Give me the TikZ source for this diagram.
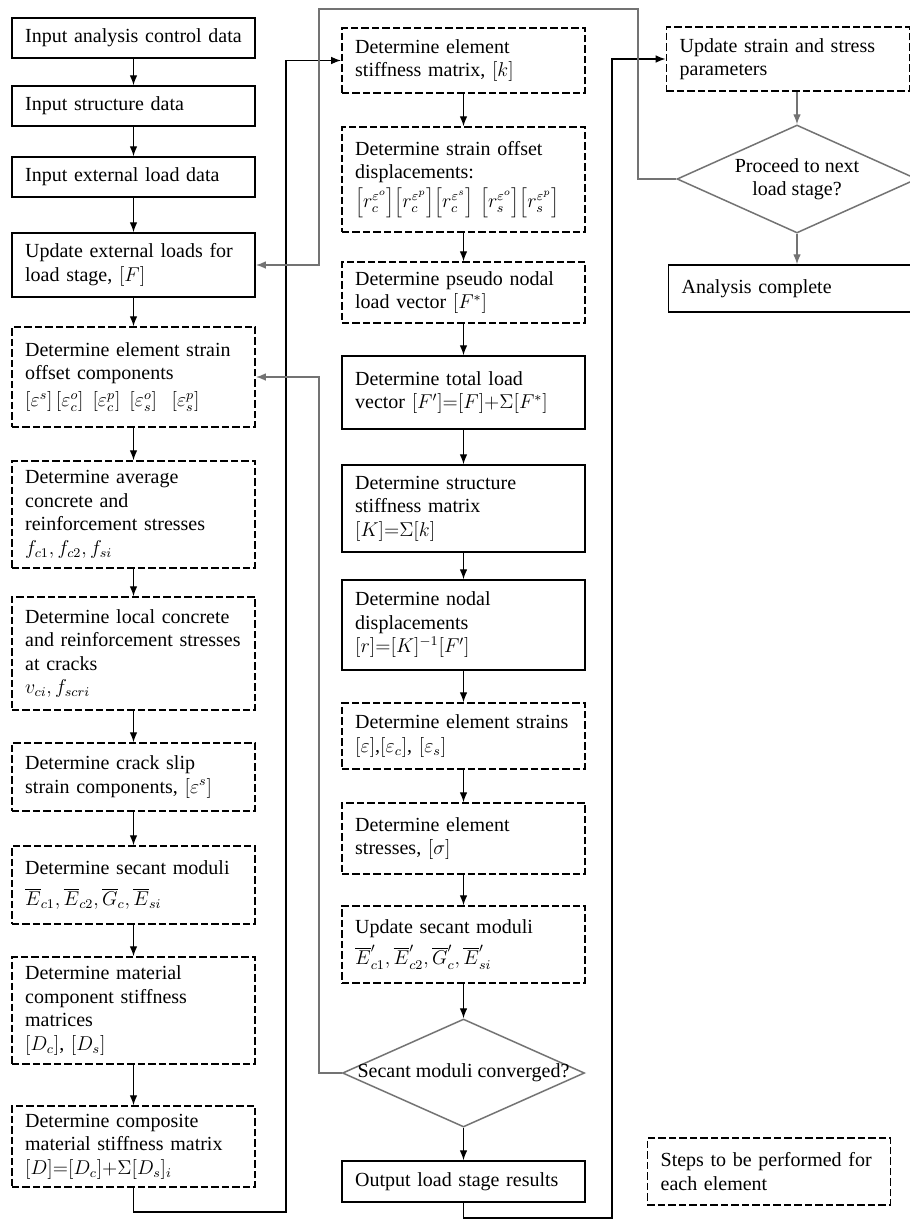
\documentclass[tikz,border=0pt]{standalone}
\usepackage{fontspec}
\setmainfont{Liberation Serif}
\usetikzlibrary{shapes.geometric,arrows.meta}
\definecolor{loopgray}{gray}{0.45}

\begin{document}
\begin{tikzpicture}[x=0.6pt,y=-0.6pt,
  solidbox/.style={draw, line width=0.9pt, rectangle, minimum width=146pt, text width=130pt,
    inner xsep=8pt, inner ysep=2pt, align=left, font=\fontsize{12}{14.1}\selectfont},
  dashbox/.style={solidbox, dash pattern=on 4.5pt off 1.8pt},
  decision/.style={draw=loopgray, diamond, line width=0.9pt, inner sep=0pt},
  arr/.style={-{Latex[length=6pt,width=4.6pt]}, line width=0.8pt},
  grayarr/.style={arr, draw=loopgray}]

\fill[white] (0,0) rectangle (909,1222);
\useasboundingbox (0,0) rectangle (909,1222);

% Left column
\node[solidbox, minimum height=24pt] (L1) at (133.5,38) {Input analysis control data};
\node[solidbox, minimum height=24pt] (L2) at (133.5,106) {Input structure data};
\node[solidbox, minimum height=24pt] (L3) at (133.5,177) {Input external load data};
\node[solidbox, minimum height=38.4pt] (L4) at (133.5,265) {Update external loads for\\ load stage, $[F]$};
\node[dashbox, minimum height=60pt] (L5) at (133.5,377) {Determine element strain\\ offset components\\[2pt]
  $[\varepsilon^s]\left[\varepsilon_c^o\right]\;\left[\varepsilon_c^p\right]\;\left[\varepsilon_s^o\right]\;\;\left[\varepsilon_s^p\right]$};
\node[dashbox, minimum height=64.2pt] (L6) at (133.5,514.5) {Determine average\\ concrete and\\ reinforcement stresses\\ $f_{c1}, f_{c2}, f_{si}$};
\node[dashbox, minimum height=67.8pt] (L7) at (133.5,653.5) {Determine local concrete\\ and reinforcement stresses\\ at cracks\\ $v_{ci}, f_{scri}$};
\node[dashbox, minimum height=40.8pt] (L8) at (133.5,777) {Determine crack slip\\ strain components, $[\varepsilon^s]$};
\node[dashbox, minimum height=46.8pt] (L9) at (133.5,885) {Determine secant moduli\\[4pt]
  $\overline{E}_{c1}, \overline{E}_{c2}, \overline{G}_{c}, \overline{E}_{si}$};
\node[dashbox, minimum height=64.2pt] (L10) at (133.5,1010.5) {Determine material\\ component stiffness\\ matrices\\ $[D_c]$, $[D_s]$};
\node[dashbox, minimum height=48.6pt] (L11) at (133.5,1146.5) {Determine composite\\ material stiffness matrix\\ $[D]{=}[D_c]{+}\Sigma[D_s]_i$};

% Middle column
\node[dashbox, minimum height=39pt] (M1) at (463.5,60.5) {Determine element\\ stiffness matrix, $[k]$};
\node[dashbox, minimum height=63pt] (M2) at (463.5,179.5) {Determine strain offset\\ displacements:\\[2pt]
  $\left[r_c^{\varepsilon^o}\right]\!\left[r_c^{\varepsilon^p}\right]\!\left[r_c^{\varepsilon^s}\right]\,\left[r_s^{\varepsilon^o}\right]\!\left[r_s^{\varepsilon^p}\right]$};
\node[dashbox, minimum height=36.6pt] (M3) at (463.5,292.5) {Determine pseudo nodal\\ load vector $[F^*]$};
\node[solidbox, minimum height=43.8pt] (M4) at (463.5,392.5) {Determine total load\\ vector $[F']{=}[F]{+}\Sigma[F^*]$};
\node[solidbox, minimum height=52.2pt] (M5) at (463.5,508.5) {Determine structure\\ stiffness matrix\\ $[K]{=}\Sigma[k]$};
\node[solidbox, minimum height=54pt] (M6) at (463.5,625) {Determine nodal\\ displacements\\ $[r]{=}[K]^{-1}[F']$};
\node[dashbox, minimum height=39.6pt] (M7) at (463.5,736) {Determine element strains\\ $[\varepsilon]$,$[\varepsilon_c]$, $[\varepsilon_s]$};
\node[dashbox, minimum height=42.6pt] (M8) at (463.5,838.5) {Determine element\\ stresses, $[\sigma]$};
\node[dashbox, minimum height=46.2pt] (M9) at (463.5,944.5) {Update secant moduli\\[4pt]
  $\overline{E}'_{c1}, \overline{E}'_{c2}, \overline{G}'_{c}, \overline{E}'_{si}$};
\node[decision, minimum width=145.2pt, minimum height=64.8pt] (D1) at (463.5,1073) {};
\node[font=\fontsize{12}{14.1}\selectfont] (D1txt) at (D1) {Secant moduli converged?};
\node[solidbox, minimum height=24.6pt] (M10) at (463.5,1181.5) {Output load stage results};

% Right column
\node[dashbox, minimum height=38.4pt] (R1) at (788,59) {Update strain and stress\\ parameters};
\node[decision, minimum width=144pt, minimum height=64.8pt] (D2) at (797,179) {};
\node[font=\fontsize{12}{14.1}\selectfont, align=center] (D2txt) at (D2) {Proceed to next\\ load stage?};
\node[solidbox, minimum height=28.2pt] (R2) at (790,288.5) {Analysis complete};

% Legend
\node[dashbox, minimum height=40.2pt] (key) at (769,1171.5) {Steps to be performed for\\ each element};

% Straight arrows, left column
\draw[arr] (L1) -- (L2);
\draw[arr] (L2) -- (L3);
\draw[arr] (L3) -- (L4);
\draw[arr] (L4) -- (L5);
\draw[arr] (L5) -- (L6);
\draw[arr] (L6) -- (L7);
\draw[arr] (L7) -- (L8);
\draw[arr] (L8) -- (L9);
\draw[arr] (L9) -- (L10);
\draw[arr] (L10) -- (L11);

% Straight arrows, middle column
\draw[arr] (M1) -- (M2);
\draw[arr] (M2) -- (M3);
\draw[arr] (M3) -- (M4);
\draw[arr] (M4) -- (M5);
\draw[arr] (M5) -- (M6);
\draw[arr] (M6) -- (M7);
\draw[arr] (M7) -- (M8);
\draw[arr] (M8) -- (M9);
\draw[arr] (M9) -- (D1);
\draw[arr] (D1) -- (M10);

% Straight arrows, right column
\draw[grayarr] (R1.south -| D2) -- (D2.north);
\draw[grayarr] (D2.south) -- (R2.north -| D2);

% Material stiffness to element stiffness
\coordinate (stiffLoop) at (286,1212);
\draw[arr] (L11.south) |- (stiffLoop) |- (M1.west);

% Secant moduli not converged
\coordinate (convLoop) at (319,1073);
\draw[grayarr] (D1.west) -- (convLoop) |- (L5.east);

% Output to update
\coordinate (outLoop) at (612,1218);
\draw[arr] (M10.south) |- (outLoop) |- (R1.west);

% Next load stage
\coordinate (nextTop) at (638,9);
\coordinate (nextLeft) at (319,9);
\draw[grayarr] (D2.west) -| (nextTop) -- (nextLeft) |- (L4.east);

\end{tikzpicture}
\end{document}
